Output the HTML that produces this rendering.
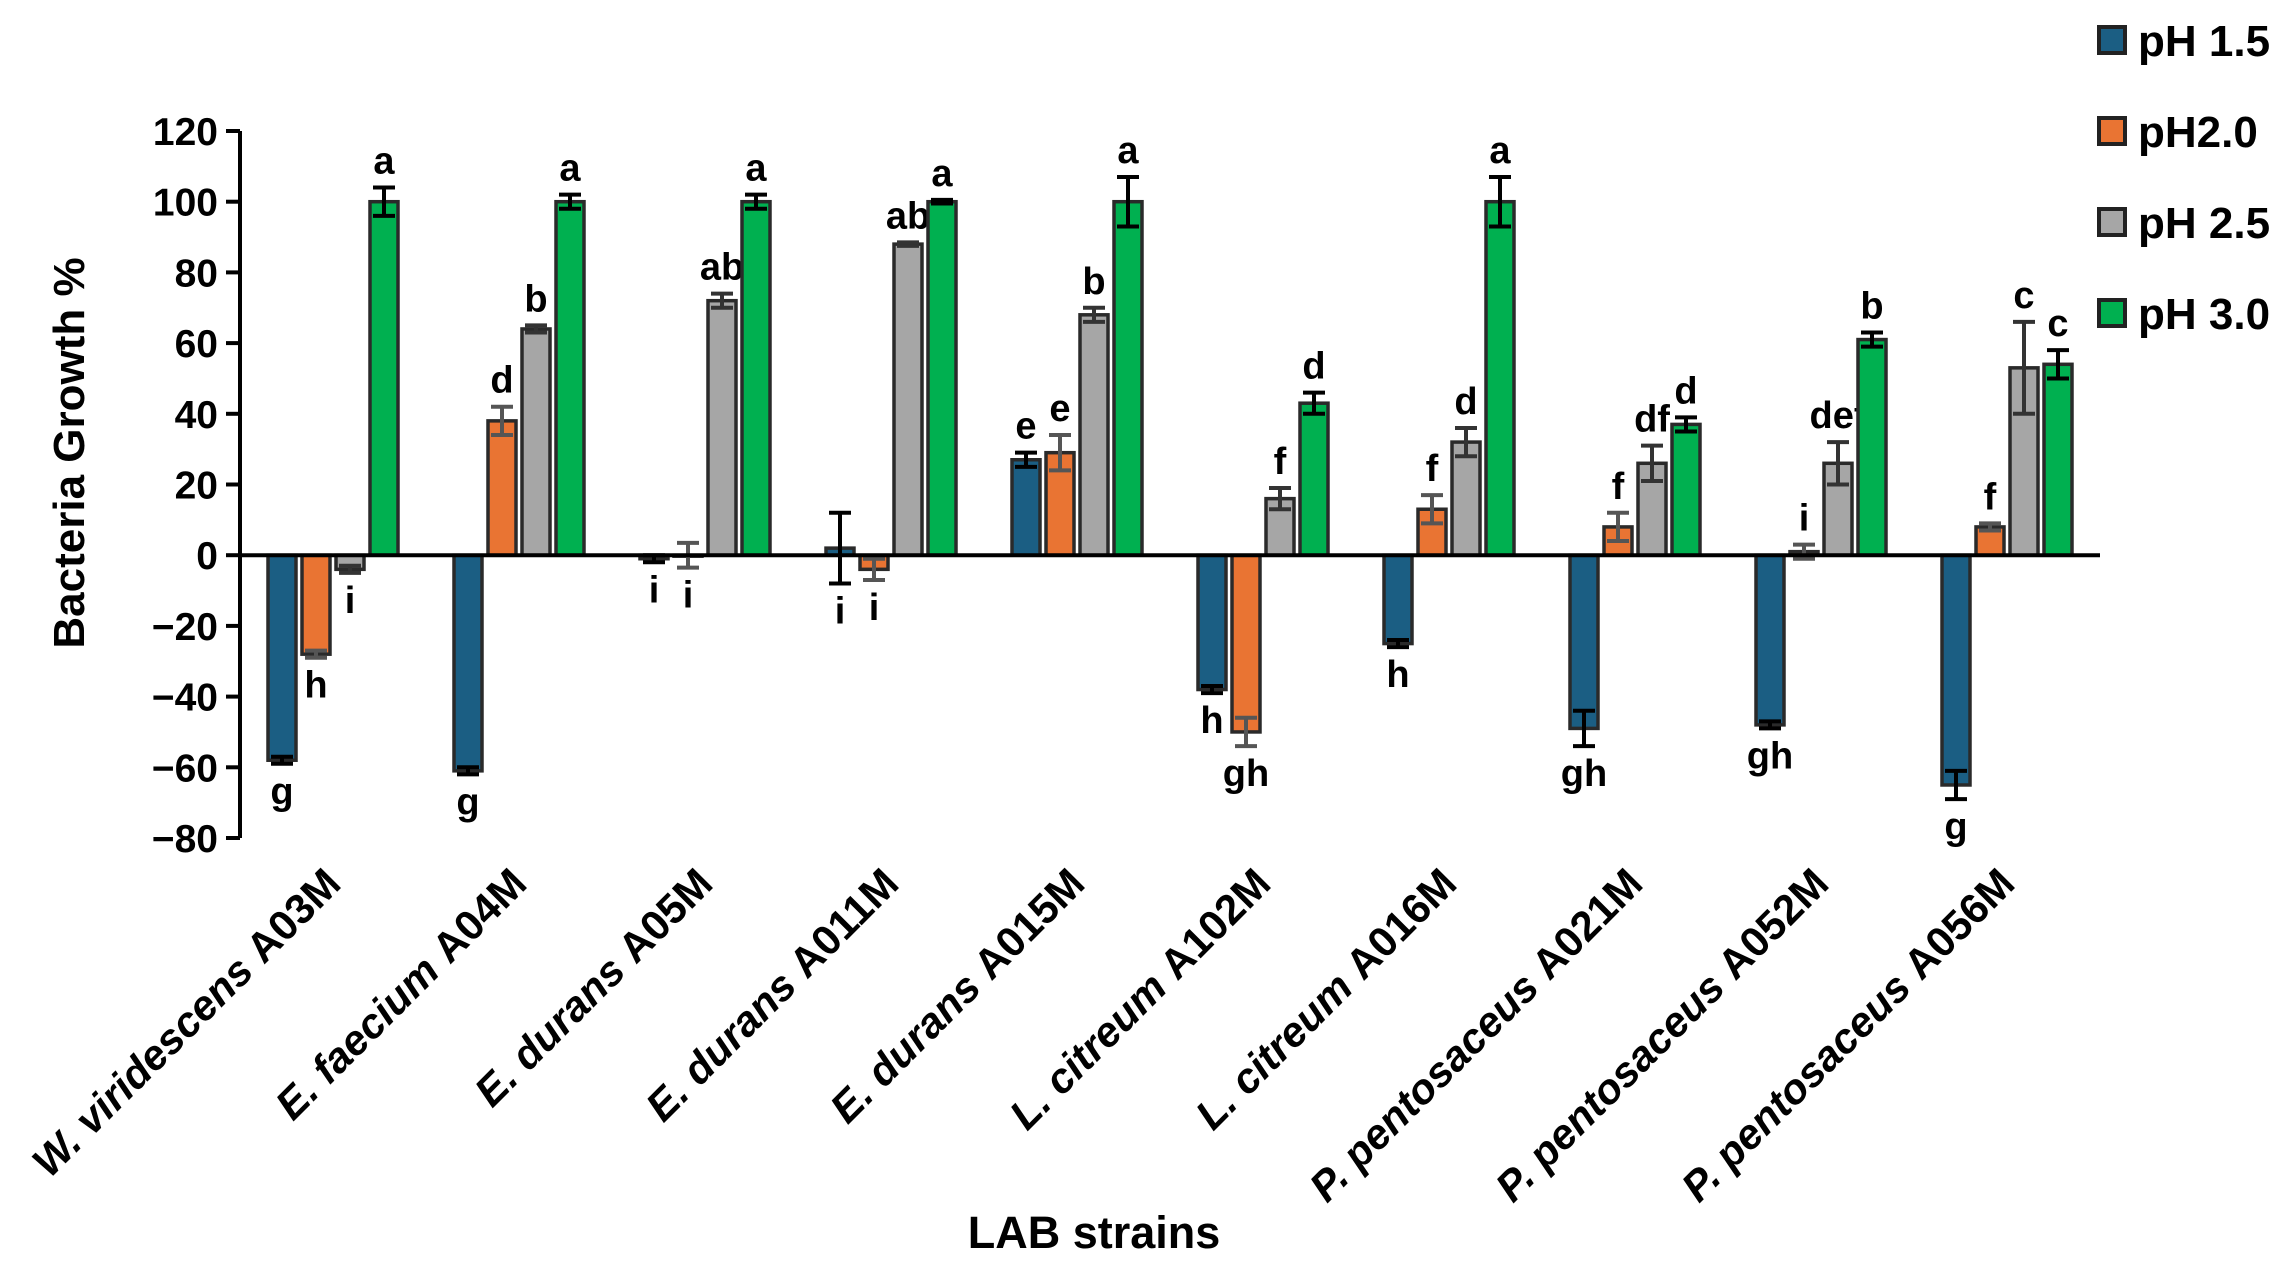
<!DOCTYPE html>
<html><head><meta charset="utf-8"><style>
html,body{margin:0;padding:0;background:#fff}
svg{display:block;font-family:"Liberation Sans",sans-serif;font-weight:bold}
</style></head><body>
<svg id="chart" width="2290" height="1265" viewBox="0 0 2290 1265">
</svg>
<script>
const categories=[["W. viridescens","A03M"],["E. faecium","A04M"],["E. durans","A05M"],["E. durans","A011M"],["E. durans","A015M"],["L. citreum","A102M"],["L. citreum","A016M"],["P. pentosaceus","A021M"],["P. pentosaceus","A052M"],["P. pentosaceus","A056M"]];
const seriesNames=["pH 1.5","pH2.0","pH 2.5","pH 3.0"];
const ph15=[-58,-61,-1,2,27,-38,-25,-49,-48,-65];
const ph20=[-28,38,0,-4,29,-50,13,8,1,8];
const ph25=[-4,64,72,88,68,16,32,26,26,53];
const ph30=[100,100,100,100,100,43,100,37,61,54];
const err15=[1,1,1,10,2,1,1,5,1,4];
const err20=[1,4,3.5,3,5,4,4,4,2,1];
const err25=[1,1,2,0.5,2,3,4,5,6,13];
const err30=[4,2,2,0.5,7,3,7,2,2,4];
const lbl15=["g","g","i","i","e","h","h","gh","gh","g"];
const lbl20=["h","d","i","i","e","gh","f","f","i","f"];
const lbl25=["i","b","ab","ab","b","f","d","df","def","c"];
const lbl30=["a","a","a","a","a","d","a","d","b","c"];
const yTicks=[-80,-60,-40,-20,0,20,40,60,80,100,120];

const svg=document.getElementById('chart');
const NS='http://www.w3.org/2000/svg';
const X0=240,X1=2100,Y0v=-80,Y1v=120,PY0=838,PY1=131;
const y=v=>PY0+(v-Y0v)*(PY1-PY0)/(Y1v-Y0v);
const bw=(X1-X0)/categories.length;
const xc=i=>X0+bw*(i+0.5);
const colors=["#1b5e83","#e97433","#a6a6a6","#00b050"];
const errColors=["#000","#555","#333","#000"];
const vals=[ph15,ph20,ph25,ph30],errs=[err15,err20,err25,err30],lbls=[lbl15,lbl20,lbl25,lbl30];
function mk(t,a,p){const e=document.createElementNS(NS,t);for(const k in a)e.setAttribute(k,a[k]);(p||svg).appendChild(e);return e;}

const ax=mk('line',{x1:X0,y1:y(-80),x2:X0,y2:y(120),stroke:'#000','stroke-width':4});


yTicks.forEach(v=>{
  const t=mk('line',{x1:X0-14,y1:y(v),x2:X0,y2:y(v),stroke:'#000','stroke-width':4});
  
  
  const l=mk('text',{x:X0-22,y:y(v)+14,'text-anchor':'end','font-size':39});
  l.textContent=(v<0?'\u2212'+(-v):String(v));
  
  
});
const yt=mk('text',{x:0,y:0,'text-anchor':'middle','font-size':44,transform:'translate(84,453) rotate(-90)'});
yt.textContent='Bacteria Growth %';



const pitch=34,barW=28;
categories.forEach((c,i)=>{
  for(let s=0;s<4;s++){
    const v=vals[s][i],e=errs[s][i];
    const bx=xc(i)+(s-1.5)*pitch-barW/2;
    const top=y(Math.max(v,0)),bot=y(Math.min(v,0));
    const r=mk('rect',{x:bx,y:top,width:barW,height:Math.max(bot-top,1),fill:colors[s],stroke:'#2a2a2a','stroke-width':3.5});
    
    
    const cx=bx+barW/2;
    const eg=mk('g',{stroke:errColors[s],'stroke-width':4});
    
    
    mk('line',{x1:cx,y1:y(v-e),x2:cx,y2:y(v+e)},eg);
    mk('line',{x1:cx-11,y1:y(v-e),x2:cx+11,y2:y(v-e)},eg);
    mk('line',{x1:cx-11,y1:y(v+e),x2:cx+11,y2:y(v+e)},eg);
    const below=v<0||(Math.abs(v)<5&&(i===2||i===3));
    const ly=below?y(v-e)+40:y(v+e)-14;
    const lt=mk('text',{x:cx,y:ly,'text-anchor':'middle','font-size':38});
    lt.textContent=lbls[s][i];
    
    
  }
  const tl=mk('text',{'text-anchor':'end','font-size':42,transform:`translate(${xc(i)+10},886) rotate(-45)`});
  const a=mk('tspan',{'font-style':'italic'},tl);a.textContent=c[0]+' ';
  const b=mk('tspan',{},tl);b.textContent=c[1];
  
  
});
const zl=mk('line',{x1:X0,y1:y(0),x2:X1,y2:y(0),stroke:'#000','stroke-width':4});


const xt=mk('text',{x:1094,y:1248,'text-anchor':'middle','font-size':45});
xt.textContent='LAB strains';



seriesNames.forEach((n,s)=>{
  const yy=40+s*91;
  const g=mk('g',{});
  
  
  mk('rect',{x:2099,y:yy-13,width:26,height:26,fill:colors[s],stroke:'#222','stroke-width':4},g);
  const t=mk('text',{x:2138,y:yy+16,'font-size':44},g);t.textContent=n;
});
</script>
</body></html>
